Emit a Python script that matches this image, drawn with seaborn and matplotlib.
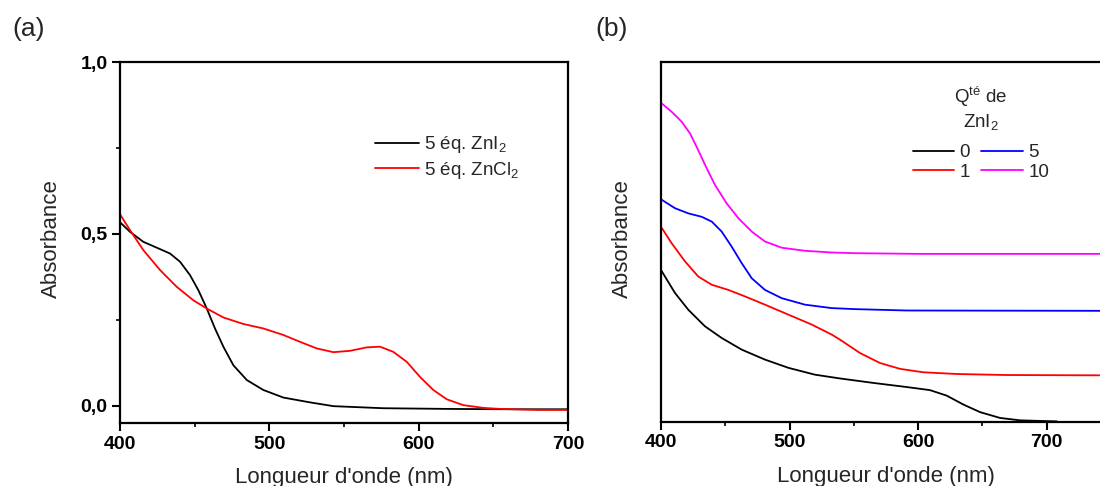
import pandas as pd
import matplotlib
matplotlib.use("Agg")
import matplotlib.pyplot as plt
import seaborn as sns

# ---- panel (a): 5 eq. of zinc salt ----
wl_zni2 = [400, 406.7, 415.6, 424.6, 433.5, 440.2, 446.9, 452.5, 458.1, 463.6,
           469.2, 475.9, 484.9, 496, 509.4, 527.3, 542.9, 576.4, 620, 660, 700]
abs_zni2 = [0.534, 0.506, 0.477, 0.460, 0.443, 0.419, 0.380, 0.336, 0.283, 0.225,
            0.172, 0.118, 0.075, 0.046, 0.024, 0.010, -0.001, -0.007, -0.009,
            -0.010, -0.010]

wl_zncl2 = [400, 406.7, 415.6, 426.8, 438, 449.1, 458.1, 469.2, 482.6, 496, 509.4,
            520.6, 531.7, 542.9, 554, 565.2, 574.1, 583, 592, 600.9, 609.8, 618.8,
            629.9, 643.3, 654.5, 680, 700]
abs_zncl2 = [0.557, 0.511, 0.453, 0.395, 0.346, 0.307, 0.283, 0.257, 0.238, 0.225,
             0.206, 0.186, 0.167, 0.156, 0.160, 0.170, 0.172, 0.157, 0.128, 0.084,
             0.046, 0.019, 0.002, -0.006, -0.009, -0.012, -0.012]

labels_a = ["5 éq. ZnI$_2$", "5 éq. ZnCl$_2$"]
colors_a = ["black", "red"]

# ---- panel (b): increasing amount of ZnI2 ----
wl_q0 = [400, 410.9, 421.3, 434.2, 447.2, 462.8, 480.9, 499.1, 519.8, 539.3, 565.2,
         591.2, 609.3, 622.3, 635.3, 648.2, 663.8, 679.4, 697.5, 708]
abs_q0 = [0.394, 0.327, 0.278, 0.230, 0.196, 0.162, 0.133, 0.109, 0.089, 0.078,
          0.065, 0.053, 0.044, 0.028, 0.002, -0.020, -0.037, -0.044, -0.046, -0.047]

wl_q1 = [400, 408.3, 418.7, 429, 439.5, 452.4, 465.4, 480.9, 499.1, 517.3, 532.8,
         539.3, 554.9, 570.4, 586, 604.1, 630, 668.9, 750]
abs_q1 = [0.520, 0.472, 0.419, 0.375, 0.351, 0.336, 0.317, 0.293, 0.264, 0.235,
          0.206, 0.191, 0.152, 0.123, 0.106, 0.096, 0.091, 0.088, 0.087]

wl_q5 = [400, 410.9, 421.3, 431.7, 439.5, 447.2, 455, 462.8, 470.6, 480.9, 493.9,
         512, 532.8, 551, 591.2, 750]
abs_q5 = [0.600, 0.574, 0.559, 0.549, 0.535, 0.506, 0.462, 0.414, 0.370, 0.336,
          0.312, 0.293, 0.283, 0.280, 0.276, 0.275]

wl_q10 = [400, 408.3, 416.1, 422.6, 429, 435.6, 442, 451.1, 460.2, 470.6, 480.9,
          493.9, 512, 532.8, 551, 600, 750]
abs_q10 = [0.881, 0.855, 0.826, 0.792, 0.743, 0.690, 0.642, 0.588, 0.545, 0.506,
           0.477, 0.459, 0.450, 0.445, 0.443, 0.441, 0.441]

labels_b = ["0", "1", "5", "10"]
colors_b = ["black", "red", "blue", "magenta"]

y_ticks = [0.0, 0.5, 1.0]
y_ticklabels = ["0,0", "0,5", "1,0"]

# ---- tables ----
df_a = pd.concat([
    pd.DataFrame({"wl": wl_zni2, "abs": abs_zni2, "serie": labels_a[0]}),
    pd.DataFrame({"wl": wl_zncl2, "abs": abs_zncl2, "serie": labels_a[1]}),
])
df_b = pd.concat([
    pd.DataFrame({"wl": w, "abs": a, "serie": l})
    for w, a, l in zip([wl_q0, wl_q1, wl_q5, wl_q10],
                       [abs_q0, abs_q1, abs_q5, abs_q10], labels_b)
])

# ---- style ----
sns.set_theme(style="ticks")
plt.rcParams["font.family"] = ["Liberation Sans", "DejaVu Sans"]
plt.rcParams.update({
    "mathtext.fontset": "custom",
    "mathtext.rm": "Liberation Sans",
    "mathtext.it": "Liberation Sans:italic",
    "mathtext.default": "regular",
    "axes.linewidth": 1.6,
    "xtick.major.width": 1.5,
    "ytick.major.width": 1.5,
    "xtick.minor.width": 1.2,
    "ytick.minor.width": 1.2,
    "xtick.major.size": 5.5,
    "ytick.major.size": 5.5,
    "xtick.minor.size": 3,
    "ytick.minor.size": 3,
    "xtick.color": "black",
    "ytick.color": "black",
    "axes.edgecolor": "black",
})

fig = plt.figure(figsize=(11, 4.86), dpi=100)
ax_a = fig.add_axes([0.1091, 0.1296, 0.4073, 0.7428])
ax_b = fig.add_axes([0.6009, 0.1323, 0.4089, 0.7401])

sns.lineplot(data=df_a, x="wl", y="abs", hue="serie", hue_order=labels_a,
             palette=colors_a, estimator=None, linewidth=1.3, ax=ax_a)
sns.lineplot(data=df_b, x="wl", y="abs", hue="serie", hue_order=labels_b,
             palette=colors_b, estimator=None, linewidth=1.3, ax=ax_b)

for ax in (ax_a, ax_b):
    for s in ax.spines.values():
        s.set_visible(True)
        s.set_linewidth(1.6)
    ax.set_xticks([400, 500, 600, 700])
    ax.set_xticks([450, 550, 650], minor=True)
    ax.tick_params(axis="both", which="both", direction="out", top=False, right=False)
    for t in ax.get_xticklabels():
        t.set_fontweight("bold")
        t.set_fontsize(14)
    ax.set_xlabel("Longueur d'onde (nm)", fontsize=16)
    ax.set_ylabel("Absorbance", fontsize=16)
    ax.xaxis.set_label_coords(0.5, -0.122)
    ax.grid(False)

ax_a.set_xlim(400, 700)
ax_a.set_ylim(-0.05, 1.0)
ax_a.set_yticks(y_ticks)
ax_a.set_yticklabels(y_ticklabels, fontweight="bold", fontsize=14)
ax_a.set_yticks([0.25, 0.75], minor=True)
ax_a.yaxis.set_label_coords(-0.13, 0.51)

ax_b.set_xlim(400, 750)
ax_b.set_ylim(-0.048, 1.0)
ax_b.set_yticks([])
ax_b.yaxis.set_label_coords(-0.062, 0.51)

h, l = ax_a.get_legend_handles_labels()
ax_a.legend(h, l, loc="upper left", bbox_to_anchor=(0.57, 0.80), frameon=False,
            fontsize=13.5, handlelength=2.3, handletextpad=0.3, labelspacing=0.25,
            borderpad=0, borderaxespad=0)

h, l = ax_b.get_legend_handles_labels()
leg = ax_b.legend(h, l, loc="upper left", bbox_to_anchor=(0.56, 0.937), frameon=False,
                  ncol=2, fontsize=13.5, title="Q$^{té}$ de\nZnI$_2$", title_fontsize=13.5,
                  handlelength=2.2, handletextpad=0.3, labelspacing=0.12,
                  columnspacing=0.6, borderpad=0, borderaxespad=0)
leg.get_title().set_multialignment("center")
leg._legend_box.sep = 9

fig.text(12 / 1100, 1 - 29 / 486, "(a)", fontsize=19, va="center", ha="left")
fig.text(595 / 1100, 1 - 29 / 486, "(b)", fontsize=19, va="center", ha="left")

fig.savefig("out.png", dpi=100)
